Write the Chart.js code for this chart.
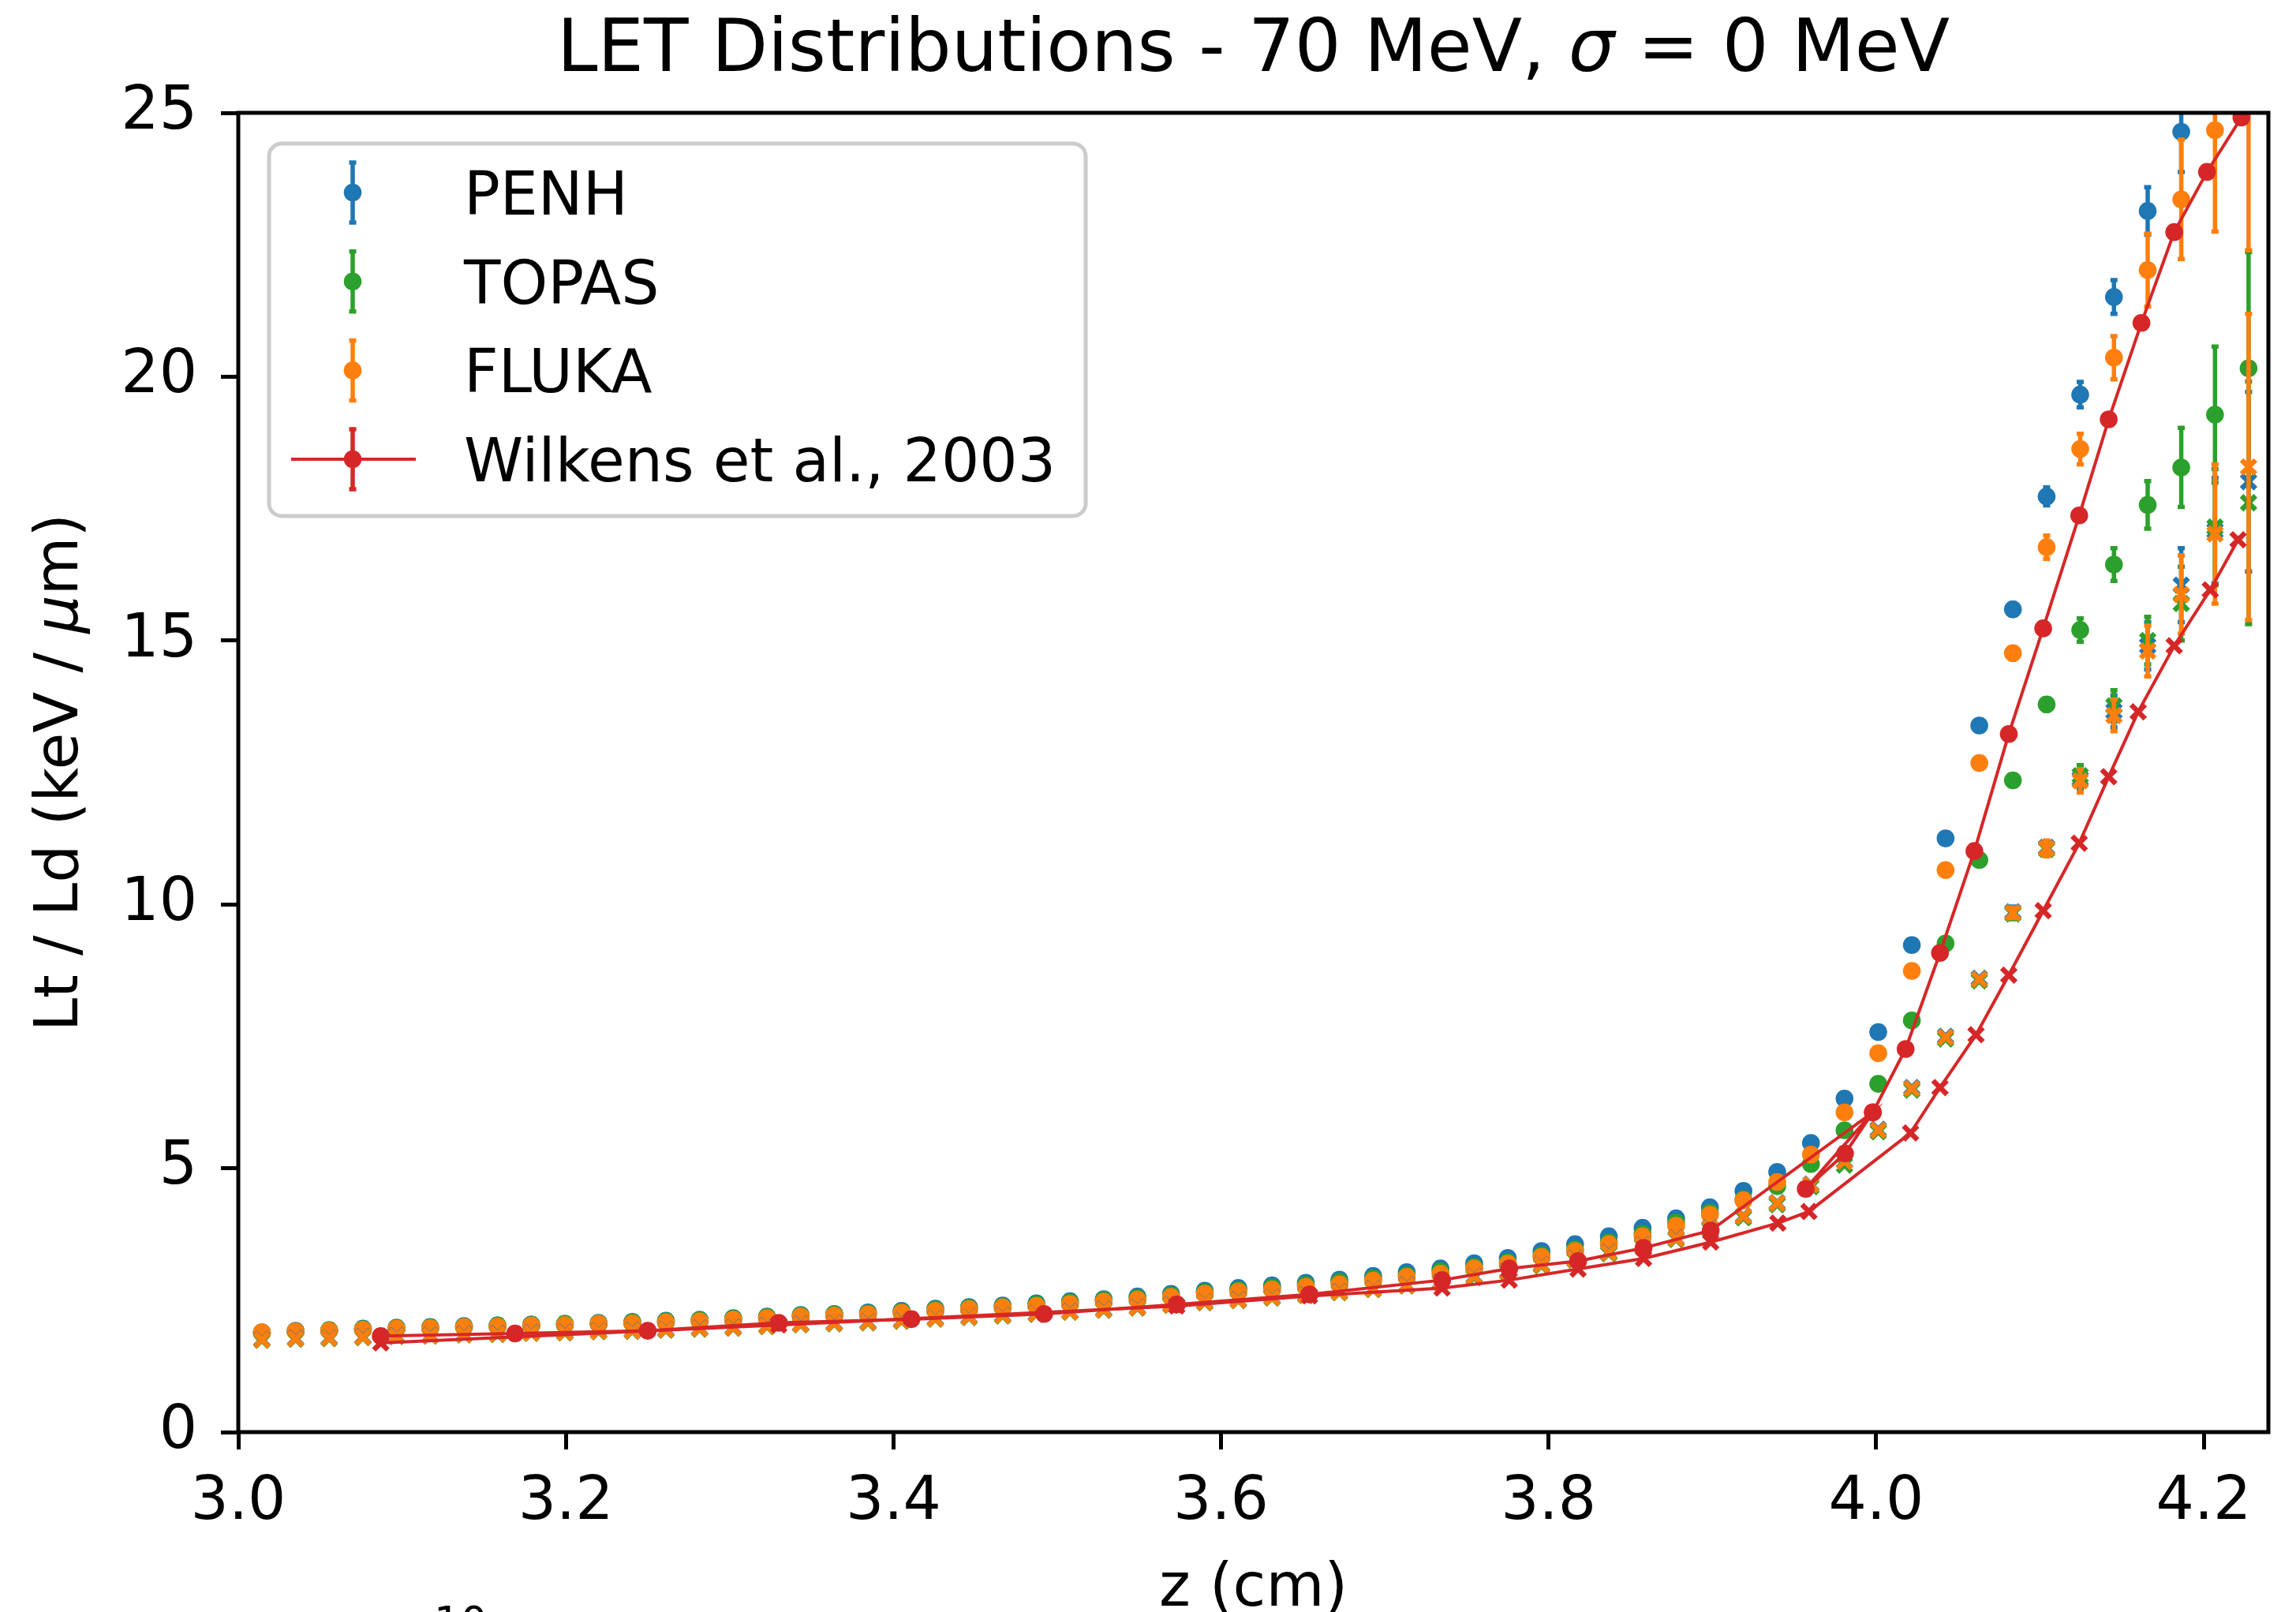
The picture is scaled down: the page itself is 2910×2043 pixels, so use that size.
<!DOCTYPE html>
<html>
<head>
<meta charset="utf-8">
<title>LET Distributions - 70 MeV</title>
<script src="https://cdn.jsdelivr.net/npm/chart.js@4.4.1/dist/chart.umd.min.js"></script>
<style>
  html, body { margin: 0; padding: 0; background: #ffffff; }
  canvas { display: block; }
</style>
</head>
<body>
<canvas id="letChart" width="2910" height="2043" style="width:2910px;height:2043px"></canvas>
<script>
// ---- Bin centres (cm) ----
const zCenters = [
  3.0144, 3.0350, 3.0555, 3.0761, 3.0966, 3.1172, 3.1378, 3.1583, 3.1789, 3.1994,
  3.2200, 3.2406, 3.2611, 3.2817, 3.3022, 3.3228, 3.3434, 3.3639, 3.3845, 3.4050,
  3.4256, 3.4462, 3.4667, 3.4873, 3.5078, 3.5284, 3.5490, 3.5695, 3.5901, 3.6106,
  3.6312, 3.6518, 3.6723, 3.6929, 3.7134, 3.7340, 3.7546, 3.7751, 3.7957, 3.8162,
  3.8368, 3.8574, 3.8779, 3.8985, 3.9190, 3.9396, 3.9602, 3.9807, 4.0013, 4.0218,
  4.0424, 4.0630, 4.0835, 4.1041, 4.1246, 4.1452, 4.1658, 4.1863, 4.2069, 4.2274
];

// ---- Track-averaged LET (Lt), keV/um ----
const penhLt = [
  1.89, 1.92, 1.93, 1.96, 1.98, 1.99, 2.01, 2.02, 2.04, 2.05,
  2.07, 2.09, 2.11, 2.13, 2.16, 2.19, 2.22, 2.24, 2.27, 2.30,
  2.34, 2.37, 2.40, 2.44, 2.48, 2.52, 2.57, 2.62, 2.68, 2.73,
  2.78, 2.83, 2.89, 2.96, 3.03, 3.10, 3.20, 3.30, 3.43, 3.56,
  3.71, 3.87, 4.05, 4.26, 4.57, 4.93, 5.48, 6.32, 7.58, 9.23,
  11.25, 13.39, 15.59, 17.73, 19.66, 21.51, 23.14, 24.64, 27.30, 28.60
];
const topasLt = [
  1.88, 1.91, 1.93, 1.95, 1.97, 1.98, 2.00, 2.02, 2.03, 2.05,
  2.06, 2.08, 2.10, 2.12, 2.15, 2.18, 2.21, 2.23, 2.25, 2.28,
  2.32, 2.35, 2.38, 2.42, 2.46, 2.50, 2.54, 2.59, 2.65, 2.69,
  2.74, 2.79, 2.85, 2.91, 2.97, 3.05, 3.13, 3.22, 3.35, 3.46,
  3.60, 3.76, 3.97, 4.16, 4.41, 4.66, 5.08, 5.72, 6.60, 7.80,
  9.26, 10.84, 12.35, 13.79, 15.20, 16.44, 17.57, 18.28, 19.28, 20.16
];
const flukaLt = [
  1.89, 1.91, 1.92, 1.94, 1.96, 1.97, 1.99, 2.00, 2.02, 2.03,
  2.05, 2.06, 2.08, 2.10, 2.13, 2.16, 2.19, 2.21, 2.23, 2.26,
  2.30, 2.33, 2.36, 2.39, 2.43, 2.47, 2.51, 2.56, 2.62, 2.66,
  2.70, 2.75, 2.80, 2.87, 2.94, 3.00, 3.10, 3.19, 3.32, 3.43,
  3.56, 3.71, 3.91, 4.12, 4.39, 4.74, 5.26, 6.06, 7.18, 8.74,
  10.65, 12.68, 14.76, 16.77, 18.63, 20.36, 22.02, 23.36, 24.67, 27.00
];

// ---- Dose-averaged LET (Ld), keV/um ----
const penhLd = [
  1.76, 1.78, 1.79, 1.81, 1.83, 1.84, 1.86, 1.87, 1.89, 1.90,
  1.92, 1.93, 1.95, 1.97, 1.99, 2.02, 2.05, 2.07, 2.09, 2.12,
  2.16, 2.19, 2.22, 2.25, 2.29, 2.33, 2.37, 2.42, 2.47, 2.51,
  2.56, 2.61, 2.66, 2.72, 2.79, 2.85, 2.96, 3.06, 3.18, 3.29,
  3.41, 3.55, 3.68, 3.87, 4.10, 4.35, 4.70, 5.14, 5.74, 6.53,
  7.50, 8.60, 9.86, 11.08, 12.38, 13.66, 14.90, 16.05, 17.08, 18.01
];
const topasLd = [
  1.74, 1.76, 1.77, 1.79, 1.81, 1.82, 1.84, 1.85, 1.87, 1.88,
  1.90, 1.91, 1.93, 1.95, 1.97, 2.00, 2.03, 2.05, 2.07, 2.10,
  2.14, 2.17, 2.20, 2.23, 2.27, 2.31, 2.35, 2.40, 2.45, 2.49,
  2.54, 2.59, 2.64, 2.70, 2.77, 2.83, 2.93, 3.03, 3.15, 3.26,
  3.38, 3.52, 3.65, 3.84, 4.06, 4.31, 4.65, 5.06, 5.69, 6.48,
  7.45, 8.55, 9.82, 11.04, 12.44, 13.76, 15.00, 15.70, 17.15, 17.61
];
const flukaLd = [
  1.75, 1.77, 1.78, 1.80, 1.82, 1.83, 1.85, 1.86, 1.88, 1.89,
  1.91, 1.92, 1.94, 1.96, 1.98, 2.01, 2.04, 2.06, 2.08, 2.11,
  2.15, 2.18, 2.21, 2.24, 2.28, 2.32, 2.36, 2.41, 2.46, 2.50,
  2.55, 2.60, 2.65, 2.71, 2.78, 2.84, 2.95, 3.05, 3.17, 3.28,
  3.40, 3.54, 3.67, 3.86, 4.09, 4.34, 4.69, 5.13, 5.72, 6.51,
  7.48, 8.58, 9.84, 11.06, 12.34, 13.58, 14.80, 15.87, 17.02, 18.29
];

// ---- Statistical uncertainties, only the last bins carry visible bars ----
const ERR_FROM = 52;
const penhLtErr  = [0.12, 0.17, 0.24, 0.32, 0.45, 0.76, 1.00, 1.50];
const topasLtErr = [0.10, 0.12, 0.22, 0.31, 0.45, 0.75, 1.29, 2.20];
const flukaLtErr = [0.12, 0.22, 0.29, 0.41, 0.69, 1.13, 1.92, 4.60];
const penhLdErr  = [0.10, 0.12, 0.20, 0.30, 0.45, 0.70, 1.00, 1.70];
const topasLdErr = [0.10, 0.12, 0.20, 0.30, 0.45, 0.70, 1.10, 2.30];
const flukaLdErr = [0.10, 0.15, 0.22, 0.30, 0.48, 0.74, 1.32, 2.90];

const wilkensLtZ = [
  3.087, 3.169, 3.250, 3.330, 3.411, 3.492, 3.573, 3.654, 3.735, 3.776,
  3.818, 3.858, 3.899, 3.998, 3.957, 3.981, 3.998, 4.018, 4.039, 4.060,
  4.081, 4.102, 4.124, 4.142, 4.162, 4.182, 4.202, 4.223
];
const wilkensLt = [
  1.82, 1.87, 1.92, 2.07, 2.14, 2.24, 2.42, 2.61, 2.88, 3.10,
  3.24, 3.49, 3.82, 6.06, 4.61, 5.28, 6.06, 7.26, 9.08, 11.01,
  13.23, 15.23, 17.37, 19.19, 21.02, 22.74, 23.88, 24.91
];
const wilkensLdZ = [
  3.087, 3.330, 3.573, 3.654, 3.735, 3.776, 3.818, 3.858, 3.899, 3.940,
  3.959, 4.021, 4.039, 4.061, 4.081, 4.102, 4.124, 4.142, 4.160, 4.182,
  4.204, 4.221
];
const wilkensLd = [
  1.69, 2.03, 2.39, 2.58, 2.73, 2.88, 3.09, 3.29, 3.60, 3.96,
  4.18, 5.67, 6.53, 7.53, 8.66, 9.88, 11.16, 12.42, 13.65, 14.90,
  15.96, 16.91
];

// ---- Axes ----
const xTicks = [3.0, 3.2, 3.4, 3.6, 3.8, 4.0, 4.2];
const yTicks = [0, 5, 10, 15, 20, 25];
const X_MIN = 3.0, X_MAX = 4.2395;
const Y_MIN = 0, Y_MAX = 25;

const COLORS = {
  penh: "#1f77b4",
  topas: "#2ca02c",
  fluka: "#ff7f0e",
  wilkens: "#d62728"
};

const FONT = "'DejaVu Sans', sans-serif";
const BASE = 76;   // 12 pt at this resolution
const LINE = 5.5;  // error bar width

Chart.defaults.font.family = FONT;
Chart.defaults.color = "#000000";

// ---- Helpers ----
function toPoints(xs, ys) {
  return xs.map((x, i) => ({ x: x, y: ys[i] }));
}

function padErrors(tail) {
  const out = zCenters.map(() => 0);
  tail.forEach((e, i) => { out[ERR_FROM + i] = e; });
  return out;
}

function circleSet(values, errs, color, order) {
  return {
    data: toPoints(zCenters, values),
    errors: padErrors(errs),
    showLine: false,
    pointStyle: "circle",
    pointRadius: 11.3,
    pointBorderWidth: 0,
    backgroundColor: color,
    borderColor: color,
    clip: 0,
    order: order
  };
}

function crossSet(values, errs, color, order) {
  return {
    data: toPoints(zCenters, values),
    errors: padErrors(errs),
    showLine: false,
    pointStyle: "crossRot",
    pointRadius: 12.5,
    pointBorderWidth: 6.5,
    backgroundColor: color,
    borderColor: color,
    clip: 0,
    order: order
  };
}

// ---- Error bars (drawn under each dataset's markers) ----
const errorBarPlugin = {
  id: "errorBars",
  beforeDatasetDraw(chart, args) {
    const ds = chart.data.datasets[args.index];
    if (!ds.errors) return;
    const ctx = chart.ctx;
    const yScale = chart.scales.y;
    const area = chart.chartArea;

    ctx.save();
    ctx.beginPath();
    ctx.rect(area.left, area.top, area.right - area.left, area.bottom - area.top);
    ctx.clip();
    ctx.strokeStyle = ds.borderColor;
    ctx.lineWidth = LINE;
    ctx.lineCap = "butt";

    args.meta.data.forEach((pt, i) => {
      const e = ds.errors[i];
      if (!e) return;
      const v = ds.data[i].y;
      const yTop = yScale.getPixelForValue(v + e);
      const yBot = yScale.getPixelForValue(v - e);
      ctx.beginPath();
      ctx.moveTo(pt.x, yTop);
      ctx.lineTo(pt.x, yBot);
      ctx.moveTo(pt.x - 4.5, yTop);
      ctx.lineTo(pt.x + 4.5, yTop);
      ctx.moveTo(pt.x - 4.5, yBot);
      ctx.lineTo(pt.x + 4.5, yBot);
      ctx.stroke();
    });
    ctx.restore();
  }
};

// ---- Text runs with italic symbols ----
function drawRuns(ctx, runs, x, y) {
  const widths = runs.map(r => {
    ctx.font = r.font;
    return ctx.measureText(r.text).width;
  });
  const total = widths.reduce((a, b) => a + b, 0);
  let cx = x - total / 2;
  runs.forEach((r, i) => {
    ctx.font = r.font;
    ctx.fillText(r.text, cx, y);
    cx += widths[i];
  });
}

// ---- Frame, titles and legend ----
const decorPlugin = {
  id: "decor",
  afterDatasetsDraw(chart) {
    const ctx = chart.ctx;
    const a = chart.chartArea;
    ctx.save();
    ctx.strokeStyle = "#000000";
    ctx.lineWidth = 5;
    ctx.lineJoin = "miter";
    ctx.strokeRect(a.left, a.top, a.right - a.left, a.bottom - a.top);
    ctx.restore();
  },
  afterDraw(chart) {
    const ctx = chart.ctx;
    const a = chart.chartArea;
    const cx = (a.left + a.right) / 2;
    const cy = (a.top + a.bottom) / 2;
    const regular = s => `${s}px ${FONT}`;
    const italic = s => `italic ${s}px ${FONT}`;

    ctx.save();
    ctx.fillStyle = "#000000";
    ctx.textBaseline = "alphabetic";

    // title
    drawRuns(ctx, [
      { text: "LET Distributions - 70 MeV, ", font: regular(92.5) },
      { text: "σ", font: italic(92.5) },
      { text: " = 0 MeV", font: regular(92.5) }
    ], cx, 90);

    // x label
    drawRuns(ctx, [{ text: "z (cm)", font: regular(BASE) }], cx, 2035);

    // y label
    ctx.save();
    ctx.translate(98, cy);
    ctx.rotate(-Math.PI / 2);
    drawRuns(ctx, [
      { text: "Lt / Ld (keV / ", font: regular(BASE) },
      { text: "μ", font: italic(BASE) },
      { text: "m)", font: regular(BASE) }
    ], 0, 0);
    ctx.restore();

    // clipped label below the figure edge
    ctx.font = regular(53);
    ctx.textAlign = "left";
    ctx.fillText("10", 550, 2074);

    // legend box
    const box = { x: 341, y: 182, w: 1035, h: 472, r: 16 };
    ctx.beginPath();
    ctx.roundRect(box.x, box.y, box.w, box.h, box.r);
    ctx.fillStyle = "rgba(255,255,255,0.8)";
    ctx.fill();
    ctx.strokeStyle = "#cccccc";
    ctx.lineWidth = 5;
    ctx.stroke();

    const entries = [
      { label: "PENH", color: COLORS.penh, line: false },
      { label: "TOPAS", color: COLORS.topas, line: false },
      { label: "FLUKA", color: COLORS.fluka, line: false },
      { label: "Wilkens et al., 2003", color: COLORS.wilkens, line: true }
    ];
    const mx = 447;
    entries.forEach((e, i) => {
      const ry = 244 + i * 112.7;
      ctx.strokeStyle = e.color;
      ctx.fillStyle = e.color;
      if (e.line) {
        ctx.lineWidth = 4;
        ctx.beginPath();
        ctx.moveTo(369, ry);
        ctx.lineTo(527, ry);
        ctx.stroke();
      }
      ctx.lineWidth = LINE;
      ctx.beginPath();
      ctx.moveTo(mx, ry - 38);
      ctx.lineTo(mx, ry + 38);
      ctx.moveTo(mx - 4.5, ry - 38);
      ctx.lineTo(mx + 4.5, ry - 38);
      ctx.moveTo(mx - 4.5, ry + 38);
      ctx.lineTo(mx + 4.5, ry + 38);
      ctx.stroke();
      ctx.beginPath();
      ctx.arc(mx, ry, 11.3, 0, Math.PI * 2);
      ctx.fill();

      ctx.fillStyle = "#000000";
      ctx.font = regular(BASE);
      ctx.textAlign = "left";
      ctx.fillText(e.label, 588, ry + 28);
    });
    ctx.restore();
  }
};

// ---- Chart ----
const ctx = document.getElementById("letChart").getContext("2d");

const datasets = [
  circleSet(penhLt, penhLtErr, COLORS.penh, 8),
  circleSet(topasLt, topasLtErr, COLORS.topas, 7),
  circleSet(flukaLt, flukaLtErr, COLORS.fluka, 6),
  crossSet(penhLd, penhLdErr, COLORS.penh, 5),
  crossSet(topasLd, topasLdErr, COLORS.topas, 4),
  crossSet(flukaLd, flukaLdErr, COLORS.fluka, 3),
  {
    data: toPoints(wilkensLtZ, wilkensLt),
    showLine: true,
    borderColor: COLORS.wilkens,
    backgroundColor: COLORS.wilkens,
    borderWidth: 4,
    tension: 0,
    pointStyle: "circle",
    pointRadius: 11.3,
    pointBorderWidth: 0,
    clip: 0,
    order: 2
  },
  {
    data: toPoints(wilkensLdZ, wilkensLd),
    showLine: true,
    borderColor: COLORS.wilkens,
    backgroundColor: COLORS.wilkens,
    borderWidth: 4,
    tension: 0,
    pointStyle: "crossRot",
    pointRadius: 12.5,
    pointBorderWidth: 6.5,
    clip: 0,
    order: 1
  }
];

const tickGrid = {
  display: true,
  drawOnChartArea: false,
  drawTicks: true,
  tickLength: 22,
  tickWidth: 5,
  tickColor: "#000000"
};

new Chart(ctx, {
  type: "scatter",
  data: { datasets: datasets },
  options: {
    responsive: false,
    animation: false,
    devicePixelRatio: 1,
    layout: { padding: { left: 0, right: 35, top: 143, bottom: 0 } },
    plugins: {
      legend: { display: false },
      title: { display: false },
      tooltip: { enabled: false }
    },
    scales: {
      x: {
        type: "linear",
        min: X_MIN,
        max: X_MAX,
        grid: tickGrid,
        border: { display: false },
        afterFit: s => { s.height = 228; },
        afterBuildTicks: s => { s.ticks = xTicks.map(v => ({ value: v })); },
        ticks: {
          padding: 30,
          maxRotation: 0,
          font: { size: BASE, lineHeight: 1 },
          color: "#000000",
          callback: v => v.toFixed(1)
        }
      },
      y: {
        type: "linear",
        min: Y_MIN,
        max: Y_MAX,
        grid: tickGrid,
        border: { display: false },
        afterFit: s => { s.width = 302; },
        afterBuildTicks: s => { s.ticks = yTicks.map(v => ({ value: v })); },
        ticks: {
          padding: 30,
          font: { size: BASE, lineHeight: 1 },
          color: "#000000",
          callback: v => String(v)
        }
      }
    }
  },
  plugins: [errorBarPlugin, decorPlugin]
});
</script>
</body>
</html>
